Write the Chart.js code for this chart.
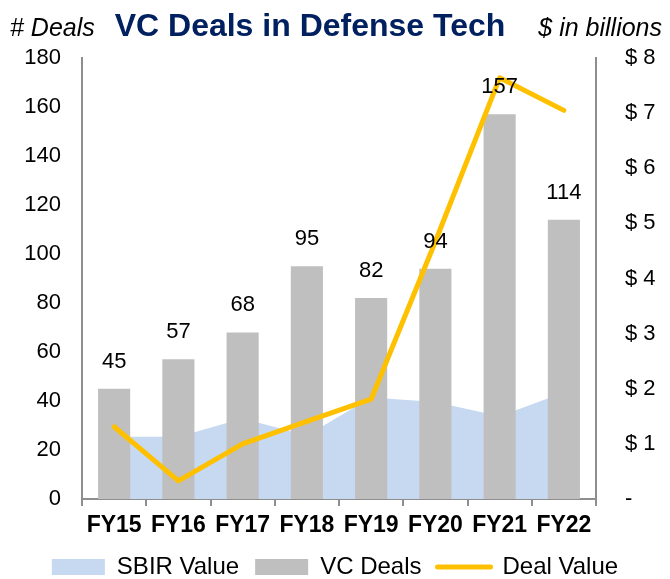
<!DOCTYPE html>
<html>
<head>
<meta charset="utf-8">
<script src="https://cdn.jsdelivr.net/npm/chart.js@4"></script>
<style>
  body { margin: 0; background: #fff; }
  canvas { display: block; }
</style>
</head>
<body>
<canvas id="vcChart" width="670" height="579"></canvas>
<script>
const years = ["FY15", "FY16", "FY17", "FY18", "FY19", "FY20", "FY21", "FY22"];
const vcDeals = [45, 57, 68, 95, 82, 94, 157, 114];
const dealValue = [1.31, 0.33, 1.0, 1.41, 1.81, 4.67, 7.64, 7.05];   // $B
const sbirValue = [1.13, 1.13, 1.46, 1.15, 1.84, 1.76, 1.5, 1.93];   // $B
const moneyTicks = ["-", "$ 1", "$ 2", "$ 3", "$ 4", "$ 5", "$ 6", "$ 7", "$ 8"];

const FONT = '"Liberation Sans", Arial, sans-serif';
const AXIS_GRAY = "#8e8e8e";

Chart.defaults.font.family = FONT;
Chart.defaults.color = "#000";

// header: side captions + title
const headerText = {
  id: "headerText",
  afterDraw(chart) {
    const c = chart.ctx;
    c.save();
    c.textBaseline = "alphabetic";
    c.fillStyle = "#000";
    c.font = "italic 25px " + FONT;
    c.textAlign = "left";
    c.fillText("# Deals", 10, 36);
    c.textAlign = "right";
    c.fillText("$ in billions", 662, 36);
    c.font = "bold 32px " + FONT;
    c.fillStyle = "#002060";
    c.textAlign = "center";
    c.fillText("VC Deals in Defense Tech", 310, 36);
    c.restore();
  }
};

// numbers above the bars
const barLabels = {
  id: "barLabels",
  afterDatasetsDraw(chart) {
    const c = chart.ctx;
    const meta = chart.getDatasetMeta(1);
    c.save();
    c.font = "22px " + FONT;
    c.fillStyle = "#000";
    c.textAlign = "center";
    c.textBaseline = "middle";
    meta.data.forEach((bar, i) => {
      c.fillText(vcDeals[i], bar.x, bar.y - 27);
    });
    c.restore();
  }
};

const ctx = document.getElementById("vcChart").getContext("2d");

new Chart(ctx, {
  data: {
    labels: years,
    datasets: [
      {
        type: "line",
        label: "Deal Value",
        data: dealValue,
        yAxisID: "y1",
        borderColor: "#FFC000",
        borderWidth: 5,
        borderCapStyle: "round",
        borderJoinStyle: "round",
        pointRadius: 0,
        fill: false,
        order: 0
      },
      {
        type: "bar",
        label: "VC Deals",
        data: vcDeals,
        yAxisID: "y",
        backgroundColor: "#BFBFBF",
        barPercentage: 0.5,
        categoryPercentage: 1,
        order: 1
      },
      {
        type: "line",
        label: "SBIR Value",
        data: sbirValue,
        yAxisID: "y1",
        backgroundColor: "#C6D9F0",
        borderColor: "transparent",
        borderWidth: 0,
        pointRadius: 0,
        fill: "origin",
        order: 2
      }
    ]
  },
  options: {
    responsive: false,
    animation: false,
    devicePixelRatio: 1,
    layout: { padding: { top: 58, bottom: -10, left: 0, right: 0 } },
    plugins: {
      tooltip: { enabled: false },
      legend: {
        position: "bottom",
        labels: {
          usePointStyle: true,
          pointStyleWidth: 53,
          boxHeight: 16,
          padding: 16,
          color: "#000",
          font: { size: 24 },
          generateLabels: () => [
            { text: "SBIR Value", fillStyle: "#C6D9F0", strokeStyle: "#C6D9F0", lineWidth: 0, pointStyle: "rect", hidden: false, datasetIndex: 2 },
            { text: "VC Deals", fillStyle: "#BFBFBF", strokeStyle: "#BFBFBF", lineWidth: 0, pointStyle: "rect", hidden: false, datasetIndex: 1 },
            { text: "Deal Value", fillStyle: "#FFC000", strokeStyle: "#FFC000", lineWidth: 5, lineCap: "round", pointStyle: "line", hidden: false, datasetIndex: 0 }
          ]
        }
      }
    },
    scales: {
      x: {
        grid: { offset: true, drawOnChartArea: false, drawTicks: true, tickLength: 7, color: AXIS_GRAY, lineWidth: 2 },
        border: { color: AXIS_GRAY, width: 2 },
        ticks: { font: { size: 23, weight: "bold" }, color: "#000", padding: 6, maxRotation: 0, autoSkip: false },
        afterFit: (s) => { s.height = 40; }
      },
      y: {
        position: "left",
        min: 0,
        max: 180,
        ticks: { stepSize: 20, font: { size: 22 }, padding: 21 },
        grid: { display: false, drawTicks: false },
        border: { color: AXIS_GRAY, width: 2 },
        afterFit: (s) => { s.width = 82; }
      },
      y1: {
        position: "right",
        min: 0,
        max: 8,
        ticks: { stepSize: 1, font: { size: 22 }, padding: 29, callback: (v, i) => moneyTicks[i] },
        grid: { display: false, drawTicks: false },
        border: { color: AXIS_GRAY, width: 2 },
        afterFit: (s) => { s.width = 74; }
      }
    }
  },
  plugins: [headerText, barLabels]
});
</script>
</body>
</html>
